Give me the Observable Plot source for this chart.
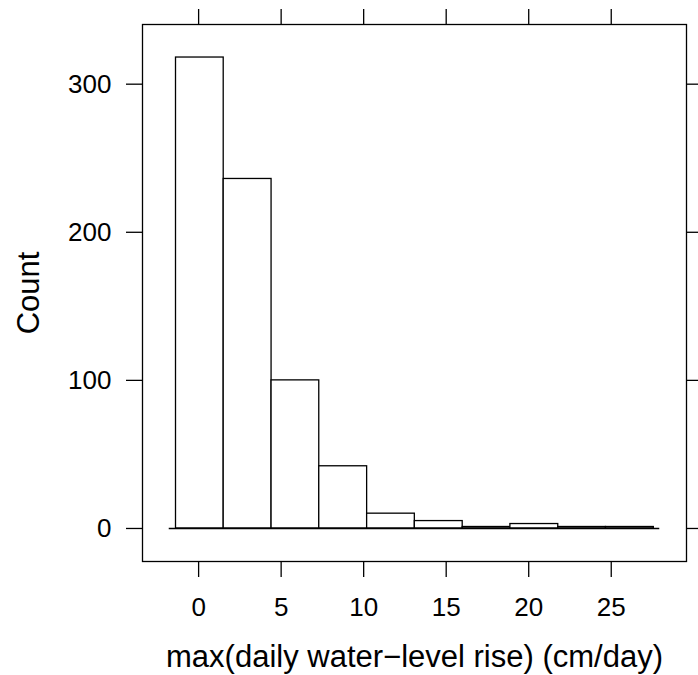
<!DOCTYPE html>
<html>
<head>
<meta charset="utf-8">
<script src="https://cdn.jsdelivr.net/npm/d3@7"></script>
<script src="https://cdn.jsdelivr.net/npm/@observablehq/plot@0.6"></script>
<style>
  html, body { margin: 0; padding: 0; background: #fff; }
  svg { display: block; }
</style>
</head>
<body>
<div id="chart"></div>
<script>
// Histogram bin edges (cm/day) and counts
const binStart = [-1.37, 1.52, 4.42, 7.31, 10.21, 13.10, 16.00, 18.89, 21.79, 24.68];
const binEnd   = [1.52, 4.42, 7.31, 10.21, 13.10, 16.00, 18.89, 21.79, 24.68, 27.58];
const counts   = [318, 236, 100, 42, 10, 5, 1, 3, 1, 1];
const xTicks = [0, 5, 10, 15, 20, 25];
const yTicks = [0, 100, 200, 300];
const xTitle = "max(daily water\u2212level rise) (cm/day)";
const yTitle = "Count";

const bins = binStart.map((s, i) => ({x1: s, x2: binEnd[i], count: counts[i]}));

const font = "'Liberation Sans', Arial, Helvetica, sans-serif";

const chart = Plot.plot({
  width: 698,
  height: 675,
  marginLeft: 142,
  marginRight: 12,
  marginTop: 24,
  marginBottom: 114,
  style: {fontFamily: font, color: "#000", background: "#fff"},
  x: {domain: [-3.40, 29.56]},
  y: {domain: [-22.3, 340.3]},
  marks: [
    Plot.rectY(bins, {x1: "x1", x2: "x2", y1: 0, y2: "count", fill: "white", stroke: "black", strokeWidth: 1.3, inset: 0}),
    Plot.ruleY([0], {x1: -1.78, x2: 27.94, stroke: "black", strokeWidth: 1.5}),
    Plot.frame({stroke: "black", strokeWidth: 1.3}),
    Plot.axisX(xTicks, {anchor: "bottom", tickSize: 16, tickPadding: 20, fontSize: 26, strokeWidth: 1.3, label: null}),
    Plot.axisX(xTicks, {anchor: "top", tickSize: 16, tickFormat: () => "", strokeWidth: 1.3, label: null}),
    Plot.axisY(yTicks, {anchor: "left", tickSize: 16, tickPadding: 15, fontSize: 26, strokeWidth: 1.3, label: null}),
    Plot.axisY(yTicks, {anchor: "right", tickSize: 16, tickFormat: () => "", strokeWidth: 1.3, label: null}),
    Plot.text([xTitle], {frameAnchor: "bottom", dy: 96, fontSize: 31, textAnchor: "middle", lineAnchor: "middle", fill: "black"}),
    Plot.text([yTitle], {frameAnchor: "left", dx: -113, rotate: -90, fontSize: 31, textAnchor: "middle", lineAnchor: "middle", fill: "black"})
  ]
});
document.getElementById("chart").appendChild(chart);
</script>
</body>
</html>
